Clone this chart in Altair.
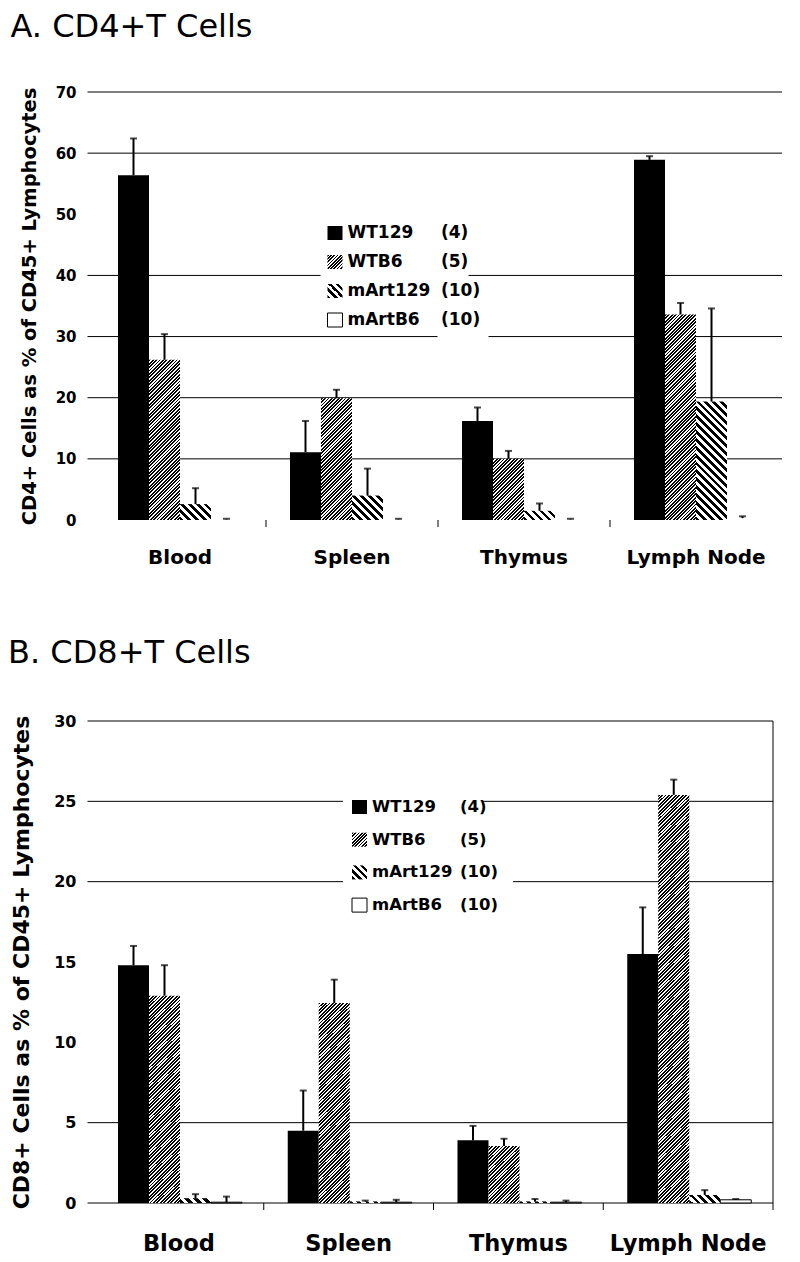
import altair as alt

# ---------------- data ----------------
categories = ["Blood", "Spleen", "Thymus", "Lymph Node"]
series = ["WT129", "WTB6", "mArt129", "mArtB6"]
counts = ["(4)", "(5)", "(10)", "(10)"]

# A. CD4+ T cells (% of CD45+ lymphocytes), per series over categories
cd4_wt129 = [56.4, 11.1, 16.2, 58.9]
cd4_wt129_err = [6.0, 5.1, 2.2, 0.6]
cd4_wtb6 = [26.2, 19.9, 10.0, 33.6]
cd4_wtb6_err = [4.2, 1.4, 1.3, 1.9]
cd4_mart129 = [2.6, 4.0, 1.5, 19.4]
cd4_mart129_err = [2.6, 4.4, 1.2, 15.2]
cd4_martb6 = [0.1, 0.1, 0.1, 0.3]
cd4_martb6_err = [0.1, 0.1, 0.1, 0.3]

# B. CD8+ T cells
cd8_wt129 = [14.8, 4.5, 3.9, 15.5]
cd8_wt129_err = [1.2, 2.5, 0.9, 2.9]
cd8_wtb6 = [12.9, 12.45, 3.55, 25.4]
cd8_wtb6_err = [1.9, 1.45, 0.45, 0.95]
cd8_mart129 = [0.3, 0.1, 0.1, 0.5]
cd8_mart129_err = [0.25, 0.05, 0.15, 0.3]
cd8_martb6 = [0.05, 0.05, 0.05, 0.2]
cd8_martb6_err = [0.35, 0.15, 0.1, 0.05]

cd4_ticks = [0, 10, 20, 30, 40, 50, 60, 70]
cd4_grid = [10, 20, 30, 40, 60, 70]
cd8_ticks = [0, 5, 10, 15, 20, 25, 30]
cd8_grid = [0, 5, 20, 25, 30]

FONT = "DejaVu Sans"
OUTER = 0.774


def stripes(w, h, period, duty, kind):
    """Linear gradient (bounding-box units) that draws 45-degree hatching."""
    n = max(1, round((w + h) / period))
    d = w * w + h * h
    if kind == "fwd":
        x1, y1, x2, y2 = 0, 0, (w + h) * w / d, (w + h) * h / d
    else:
        x1, y1, x2, y2 = 0, 1, (w + h) * w / d, 1 - (w + h) * h / d
    stops = []
    for i in range(n):
        a, b, c = i / n, (i + duty) / n, (i + 1) / n
        stops += [
            {"offset": a, "color": "black"},
            {"offset": b, "color": "black"},
            {"offset": b, "color": "white"},
            {"offset": c, "color": "white"},
        ]
    return {"gradient": "linear", "x1": x1, "y1": y1, "x2": x2, "y2": y2, "stops": stops}


def fill_for(ser, w, h):
    if ser == "WT129":
        return "black"
    if ser == "WTB6":
        return stripes(w, h, 3.4, 0.55, "fwd")
    if ser == "mArt129":
        return stripes(w, h, 8.0, 0.48, "back")
    return "white"


def panel(title, vals, errs, ticks, grid, ymax, W, H, cfg):
    band = W / len(categories)
    bw = band / (len(series) + 2 * OUTER)
    rows = []
    for s, v_list, e_list in zip(series, vals, errs):
        for c, v, e in zip(categories, v_list, e_list):
            h = v / ymax * H
            rows.append({
                "cat": c, "ser": s, "v": v, "hi": v + e,
                "g": fill_for(s, bw, h),
                "sk": ("black" if (s == "mArtB6" and cfg["outline"]) else "transparent"),
            })
    data = alt.Data(values=rows)

    xenc = alt.X("cat:N", sort=categories,
                 scale=alt.Scale(paddingInner=0, paddingOuter=0),
                 axis=alt.Axis(title=None, labelAngle=0, domain=False, ticks=False,
                               labelFont=FONT, labelFontWeight="bold",
                               labelFontSize=cfg["xlab"], labelColor="black",
                               labelPadding=cfg["xpad"]))
    xoff = alt.XOffset("ser:N", sort=series,
                       scale=alt.Scale(paddingInner=0, paddingOuter=OUTER))
    yscale = alt.Scale(domain=[0, ymax], nice=False, zero=True)
    yenc = alt.Y("v:Q", scale=yscale, stack=None,
                 axis=alt.Axis(values=ticks, grid=False, domain=False, ticks=False,
                               tickSize=0, labelPadding=cfg["ypad"],
                               labelFont=FONT, labelFontWeight="bold",
                               labelFontSize=cfg["ylab"], labelColor="black",
                               title=cfg["ytitle"], titleFont=FONT,
                               titleFontWeight="bold", titleFontSize=cfg["ytsize"],
                               titleColor="black", titleX=cfg["titleX"],
                               titleY=H / 2, titleAngle=270,
                               titleBaseline="alphabetic", titleAlign="center"))

    gridl = alt.Chart(alt.Data(values=[{"gv": g} for g in grid])).mark_rule(
        color="black", strokeWidth=1
    ).encode(y=alt.Y("gv:Q", scale=yscale), x=alt.value(-6.5), x2=alt.value(W))

    box_rows = [{"x": b[0], "x2": b[1], "y": b[2], "y2": b[3]} for b in cfg["boxes"]]
    boxes = alt.Chart(alt.Data(values=box_rows)).mark_rect(fill="white").encode(
        x=alt.X("x:Q", scale=None, axis=None), x2="x2:Q",
        y=alt.Y("y:Q", scale=None, axis=None), y2="y2:Q")

    bars = alt.Chart(data).mark_bar(strokeWidth=1).encode(
        x=xenc, xOffset=xoff, y=yenc,
        fill=alt.Fill("g:N", scale=None, legend=None),
        stroke=alt.Stroke("sk:N", scale=None, legend=None))

    err = alt.Chart(data).mark_rule(color="black", strokeWidth=2).encode(
        x=alt.X("cat:N", sort=categories), xOffset=alt.XOffset("ser:N", sort=series),
        y=alt.Y("v:Q", scale=yscale), y2="hi:Q")
    cap = alt.Chart(data).mark_tick(color="black", size=7, thickness=2).encode(
        x=alt.X("cat:N", sort=categories), xOffset=alt.XOffset("ser:N", sort=series),
        y=alt.Y("hi:Q", scale=yscale))

    sep = alt.Chart(alt.Data(values=[{"cat": c} for c in categories[1:]])).mark_rule(
        color="black", strokeWidth=1
    ).encode(x=alt.X("cat:N", sort=categories, bandPosition=0),
             y=alt.value(H), y2=alt.value(H + 7))

    lg_rows = []
    for i, (s, n) in enumerate(zip(series, counts)):
        lg_rows.append({"i": i, "name": s, "n": n,
                        "g": fill_for(s, 15, 14),
                        "sk": "black" if s == "mArtB6" else "transparent"})
    lg = alt.Chart(alt.Data(values=lg_rows)).transform_calculate(
        cy=f"datum.i * {cfg['lg_dy']} + {cfg['lg_y0']}",
        top="datum.cy - 7", bot="datum.cy + 7")
    sym = lg.mark_rect(strokeWidth=1).encode(
        x=alt.value(cfg["sym_x"]), x2=alt.value(cfg["sym_x"] + 15),
        y=alt.Y("top:Q", scale=None, axis=None), y2="bot:Q",
        fill=alt.Fill("g:N", scale=None, legend=None),
        stroke=alt.Stroke("sk:N", scale=None, legend=None))
    names = lg.mark_text(align="left", baseline="middle", font=FONT,
                         fontWeight="bold", fontSize=cfg["lgsize"], color="black").encode(
        x=alt.value(cfg["name_x"]), y=alt.Y("cy:Q", scale=None, axis=None), text="name:N")
    nums = lg.mark_text(align="left", baseline="middle", font=FONT,
                        fontWeight="bold", fontSize=cfg["lgsize"], color="black").encode(
        x=alt.value(cfg["num_x"]), y=alt.Y("cy:Q", scale=None, axis=None), text="n:N")

    layers = [gridl, boxes, bars, err, cap, sep]
    if cfg["border"]:
        border = alt.Chart(alt.Data(values=[{"a": 1}])).mark_rule(
            color="black", strokeWidth=1
        ).encode(x=alt.value(W), y=alt.value(0), y2=alt.value(H + 7))
        layers.append(border)
    layers += [sym, names, nums]

    return alt.layer(*layers).properties(
        width=W, height=H,
        title=alt.TitleParams(title, anchor="start", frame="group", dx=cfg["tdx"],
                              font=FONT, fontSize=32, fontWeight="normal",
                              color="black", baseline="alphabetic", offset=cfg["toff"]),
    )


top = panel(
    "A. CD4+T Cells",
    [cd4_wt129, cd4_wtb6, cd4_mart129, cd4_martb6],
    [cd4_wt129_err, cd4_wtb6_err, cd4_mart129_err, cd4_martb6_err],
    cd4_ticks, cd4_grid, 70, 688, 428,
    dict(outline=False, border=False, xlab=20, xpad=27, ylab=15, ypad=18,
         ytitle="CD4+ Cells as % of CD45+ Lymphocytes", ytsize=19.5, titleX=-58.5,
         boxes=[(226.5, 374.5, 121, 239), (343.5, 394.5, 188, 250)],
         lg_dy=29, lg_y0=141, sym_x=233.5, name_x=253.5, num_x=347, lgsize=17,
         tdx=-83.5, toff=16),
)

bottom = panel(
    "B. CD8+T Cells",
    [cd8_wt129, cd8_wtb6, cd8_mart129, cd8_martb6],
    [cd8_wt129_err, cd8_wtb6_err, cd8_mart129_err, cd8_martb6_err],
    cd8_ticks, cd8_grid, 30, 679, 482,
    dict(outline=True, border=True, xlab=22.5, xpad=29, ylab=16, ypad=18,
         ytitle="CD8+ Cells as % of CD45+ Lymphocytes", ytsize=22, titleX=-66,
         boxes=[(249, 389, 68, 205), (376, 419, 140, 205)],
         lg_dy=32.7, lg_y0=86, sym_x=258, name_x=278, num_x=366, lgsize=16.5,
         tdx=-86, toff=18),
)

chart = alt.vconcat(top, bottom, spacing=70).configure_view(stroke=None).properties(
    padding={"left": 0, "top": 3, "right": 0, "bottom": 0}, background="white")

chart.save("out.html", embed_options={"renderer": "svg", "actions": False})
